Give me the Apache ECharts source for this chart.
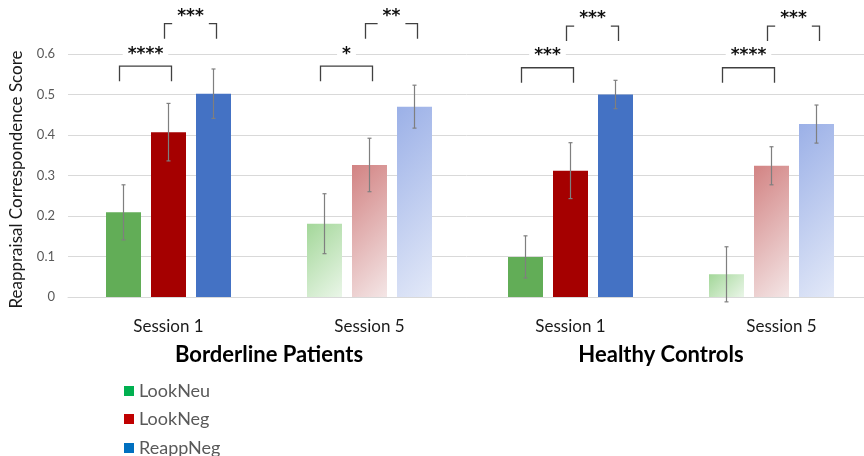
<!DOCTYPE html>
<html>
<head>
<meta charset="utf-8">
<script src="https://cdn.jsdelivr.net/npm/echarts@6/dist/echarts.min.js"></script>
<style>html,body{margin:0;padding:0;background:#fff}#c{width:864px;height:456px}</style>
</head>
<body>
<div id="c"></div>
<script>
const categories = ['Session 1', 'Session 5', 'Session 1', 'Session 5'];
const groups = ['Borderline Patients', 'Healthy Controls'];
const seriesNames = ['LookNeu', 'LookNeg', 'ReappNeg'];
const lookNeu = [0.209, 0.181, 0.099, 0.056];
const lookNeuErr = [0.068, 0.074, 0.052, 0.068];
const lookNeg = [0.407, 0.326, 0.312, 0.324];
const lookNegErr = [0.071, 0.066, 0.069, 0.047];
const reappNeg = [0.502, 0.470, 0.500, 0.427];
const reappNegErr = [0.061, 0.053, 0.035, 0.047];
const yMin = 0, yMax = 0.6, yStep = 0.1;
// [category index, from bar, to bar, bracket top value, significance]
const brackets = [
  [0, 0, 1, 0.570, '****'],
  [0, 1, 2, 0.675, '***'],
  [1, 0, 1, 0.570, '*'],
  [1, 1, 2, 0.675, '**'],
  [2, 0, 1, 0.566, '***'],
  [2, 1, 2, 0.669, '***'],
  [3, 0, 1, 0.566, '****'],
  [3, 1, 2, 0.669, '***']
];

const FONT = 'Lato, "Open Sans", sans-serif';
const solid = ['#62ad57', '#a50000', '#4472c4'];
const legendColors = ['#00b050', '#c00000', '#0070c0'];
const fadeFrom = ['#a3d799', '#d28383', '#9bb0e7'];
const fadeTo = ['#eaf6e8', '#f4e6e6', '#e3e9f8'];
const BAR_W = 35, BAR_GAP = 10, PITCH = BAR_W + BAR_GAP;

const values = [lookNeu, lookNeg, reappNeg];
const errs = [lookNeuErr, lookNegErr, reappNegErr];

const chart = echarts.init(document.getElementById('c'), null, { renderer: 'canvas' });

function barData(si, pxHeight) {
  return values[si].map((v, i) => {
    if (i % 2 === 1) {
      const h = pxHeight ? Math.max(1, pxHeight(v)) : BAR_W;
      const w = BAR_W;
      const x2 = (w + h) / (2 * w), y2 = (w + h) / (2 * h);
      return { value: v, itemStyle: { color: new echarts.graphic.LinearGradient(0, 0, x2, y2, [
        { offset: 0, color: fadeFrom[si] }, { offset: 1, color: fadeTo[si] }]) } };
    }
    return { value: v };
  });
}

function buildSeries(pxHeight) {
  const series = [];
  seriesNames.forEach((name, si) => {
    series.push({
      name: name, type: 'bar', xAxisIndex: 0, barWidth: BAR_W, barGap: (BAR_GAP / BAR_W * 100) + '%',
      itemStyle: { color: solid[si] }, data: barData(si, pxHeight), z: 2
    });
  });
  seriesNames.forEach((name, si) => {
    series.push({
      type: 'custom', xAxisIndex: 0, z: 5, silent: true,
      data: values[si].map((v, i) => [i, v - errs[si][i], v + errs[si][i]]),
      renderItem: function (params, api) {
        const off = (si - 1) * PITCH;
        const lo = api.coord([api.value(0), api.value(1)]);
        const hi = api.coord([api.value(0), api.value(2)]);
        const x = lo[0] + off, c = 2;
        const st = { stroke: '#7f7f7f', lineWidth: 1.2 };
        return { type: 'group', children: [
          { type: 'line', shape: { x1: x, y1: lo[1], x2: x, y2: hi[1] }, style: st },
          { type: 'line', shape: { x1: x - c, y1: lo[1], x2: x + c, y2: lo[1] }, style: st },
          { type: 'line', shape: { x1: x - c, y1: hi[1], x2: x + c, y2: hi[1] }, style: st }
        ]};
      }
    });
  });
  series.push({
    type: 'custom', xAxisIndex: 0, z: 10, silent: true, clip: false,
    data: brackets,
    renderItem: function (params, api) {
      const b = brackets[params.dataIndex];
      const p = api.coord([b[0], b[3]]);
      const x1 = p[0] + (b[1] - 1) * PITCH - 4;
      const x2 = p[0] + (b[2] - 1) * PITCH + 3;
      const y = p[1], leg = 15;
      const gap = b[1] === 0 ? 12 : 7;
      const st = { stroke: '#404040', lineWidth: 1.3, fill: null };
      return { type: 'group', children: [
        { type: 'polyline', shape: { points: [[x1, y + leg], [x1, y], [x2, y], [x2, y + leg]] }, style: st },
        { type: 'text', x: (x1 + x2) / 2, y: y - gap, style: {
          text: b[4], fill: '#111111', font: 'bold 17px "DejaVu Sans"', align: 'center', verticalAlign: 'middle',
          backgroundColor: '#ffffff', padding: [1, 5] } }
      ]};
    }
  });
  return series;
}

const legendTops = [381, 409, 438];
const option = {
  animation: false,
  backgroundColor: '#ffffff',
  grid: { left: 68, top: 54, width: 804, height: 243, outerBoundsMode: 'none', containLabel: false },
  legend: seriesNames.map((n, i) => ({
    orient: 'vertical', left: 124, top: legendTops[i], padding: 0, itemWidth: 10, itemHeight: 10,
    icon: 'rect', selectedMode: false, itemGap: 0,
    textStyle: { fontFamily: FONT, fontSize: 18, color: '#595959', lineHeight: 20 },
    data: [{ name: n, itemStyle: { color: legendColors[i] } }]
  })),
  xAxis: [{
    type: 'category', data: categories.map((c, i) => (i === 3 ? { value: c, textStyle: { padding: [0, 0, 0, 20] } } : c)),
    position: 'bottom',
    axisLine: { show: true, lineStyle: { color: '#d9d9d9' } }, axisTick: { show: false },
    axisLabel: { fontFamily: FONT, fontSize: 17, color: '#1a1a1a', margin: 21 }
  }, {
    type: 'category', data: groups.map((g, i) => (i === 1 ? { value: g, textStyle: { padding: [0, 20, 0, 0] } } : g)),
    position: 'bottom', gridIndex: 0,
    axisLine: { show: false }, axisTick: { show: false }, splitLine: { show: false },
    axisLabel: { fontFamily: FONT, fontSize: 22, fontWeight: 'bold', color: '#000000', margin: 47 }
  }],
  yAxis: {
    type: 'value', min: yMin, max: yMax, interval: yStep,
    name: 'Reappraisal Correspondence Score', nameLocation: 'middle', nameGap: 43,
    nameTextStyle: { fontFamily: FONT, fontSize: 17, color: '#1a1a1a', padding: [0, 8, 0, 0] },
    axisLine: { show: false }, axisTick: { show: false },
    axisLabel: { fontFamily: FONT, fontSize: 13, color: '#595959', margin: 13,
      formatter: v => (v === 0 ? '0' : v.toFixed(1)) },
    splitLine: { lineStyle: { color: '#d9d9d9', width: 1 } }
  },
  series: buildSeries(null)
};
chart.setOption(option);
const pxHeight = v => chart.convertToPixel({ yAxisIndex: 0 }, 0) - chart.convertToPixel({ yAxisIndex: 0 }, v);
chart.setOption({ series: buildSeries(pxHeight) });
</script>
</body>
</html>
